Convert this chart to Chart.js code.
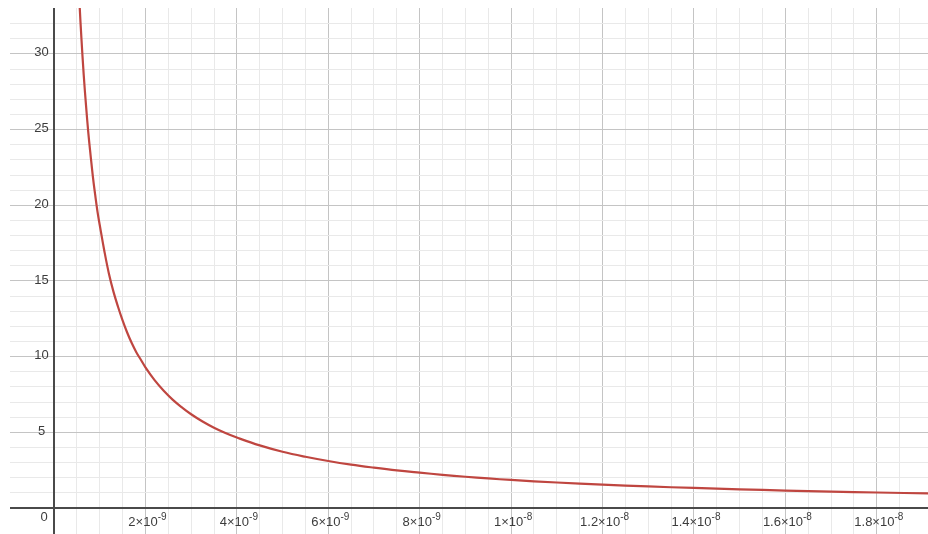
<!DOCTYPE html>
<html>
<head>
<meta charset="utf-8">
<script src="https://cdn.jsdelivr.net/npm/chart.js@4"></script>
<style>
  html, body { margin: 0; padding: 0; background: #fff; }
  #wrap { width: 928px; height: 534px; }
</style>
</head>
<body>
<div id="wrap"><canvas id="c" width="928" height="534"></canvas></div>
<script>
/* ── data (x in units of 1e-9) ── */
const xNano = [0.52, 0.56, 0.6, 0.65, 0.7, 0.75, 0.8, 0.85, 0.9, 0.95, 1.0, 1.1, 1.2, 1.3, 1.4, 1.5, 1.6, 1.7, 1.8, 1.9,
               2.0, 2.2, 2.4, 2.6, 2.8, 3.0, 3.25, 3.5, 3.75, 4.0, 4.5, 5.0, 5.5, 6.0, 6.5, 7.0, 7.5, 8.0, 8.5, 9.0, 9.5,
               10, 11, 12, 13, 14, 15, 16, 17, 18, 19.2];
const yVals = [35.8, 33.2, 31.0, 28.6, 26.6, 24.8, 23.3, 21.9, 20.7, 19.6, 18.7, 17.0, 15.5, 14.3, 13.3, 12.4, 11.6, 10.9, 10.3, 9.8,
               9.3, 8.45, 7.75, 7.15, 6.65, 6.2, 5.72, 5.31, 4.96, 4.66, 4.14, 3.72, 3.39, 3.11, 2.87, 2.67, 2.49, 2.34, 2.2, 2.07, 1.96,
               1.86, 1.69, 1.55, 1.43, 1.33, 1.24, 1.16, 1.09, 1.03, 0.97];

const xTickVals  = [2, 4, 6, 8, 10, 12, 14, 16, 18];
const xTickBase  = ["2×10", "4×10", "6×10", "8×10", "1×10", "1.2×10", "1.4×10", "1.6×10", "1.8×10"];
const xTickExp   = ["-9", "-9", "-9", "-9", "-8", "-8", "-8", "-8", "-8"];
const yTickVals  = [5, 10, 15, 20, 25, 30];
const yTickLbls  = ["5", "10", "15", "20", "25", "30"];

/* ── view window ── */
const X_MIN = -0.963, X_MAX = 19.12;
const Y_MIN = -1.71,  Y_MAX = 33.03;

const FONT = "'Liberation Sans', Arial, sans-serif";

function onStep(v, step) {
  return Math.abs(v / step - Math.round(v / step)) < 1e-6;
}

function gridColor(v, minor, major) {
  if (!onStep(v, minor)) return "rgba(0,0,0,0)";
  if (onStep(v, major)) return "#c4c4c4";
  return "#e9e9e9";
}

/* ── axes + labels, desmos style ── */
const axisLines = {
  id: "axisLines",
  beforeDatasetsDraw(chart) {
    const { ctx, chartArea: a, scales: { x, y } } = chart;
    const x0 = Math.round(x.getPixelForValue(0));
    const y0 = Math.round(y.getPixelForValue(0));
    ctx.save();
    ctx.strokeStyle = "#4a4a4a";
    ctx.lineWidth = 2;
    ctx.beginPath();
    ctx.moveTo(x0, a.top);  ctx.lineTo(x0, a.bottom);
    ctx.moveTo(a.left, y0); ctx.lineTo(a.right, y0);
    ctx.stroke();
    ctx.restore();
  },
};

const axisLabels = {
  id: "axisLabels",
  afterDraw(chart) {
    const { ctx, scales: { x, y } } = chart;
    ctx.save();
    ctx.fillStyle = "#3c3c3c";
    ctx.textBaseline = "alphabetic";

    // x labels
    xTickVals.forEach((v, i) => {
      const px = x.getPixelForValue(v);
      ctx.font = "13px " + FONT;
      const wb = ctx.measureText(xTickBase[i]).width;
      ctx.font = "10px " + FONT;
      const we = ctx.measureText(xTickExp[i]).width;
      const left = px - (wb + we) / 2 + 2;
      ctx.textAlign = "left";
      ctx.font = "13px " + FONT;
      ctx.fillText(xTickBase[i], left, 526);
      ctx.font = "10px " + FONT;
      ctx.fillText(xTickExp[i], left + wb, 520);
    });

    // y labels
    ctx.font = "13px " + FONT;
    ctx.textAlign = "center";
    ctx.textBaseline = "middle";
    yTickVals.forEach((v, i) => {
      ctx.fillText(yTickLbls[i], 41.5, y.getPixelForValue(v) - 1);
    });
    ctx.fillText("0", 44, y.getPixelForValue(0) + 9);
    ctx.restore();
  },
};

new Chart(document.getElementById("c"), {
  type: "scatter",
  data: {
    datasets: [{
      data: xNano.map((v, i) => ({ x: v, y: yVals[i] })),
      showLine: true,
      borderColor: "#bf4640",
      borderWidth: 2.2,
      pointRadius: 0,
      tension: 0.4,
    }],
  },
  options: {
    responsive: false,
    animation: false,
    layout: { padding: { left: 10, top: 8, right: 0, bottom: 0 } },
    plugins: { legend: { display: false }, tooltip: { enabled: false } },
    scales: {
      x: {
        type: "linear",
        min: X_MIN, max: X_MAX,
        ticks: { display: false, stepSize: 0.5 },
        border: { display: false },
        grid: {
          drawTicks: false,
          color: c => gridColor(c.tick.value, 0.5, 2),
        },
      },
      y: {
        type: "linear",
        min: Y_MIN, max: Y_MAX,
        ticks: { display: false, stepSize: 1 },
        border: { display: false },
        grid: {
          drawTicks: false,
          color: c => gridColor(c.tick.value, 1, 5),
        },
      },
    },
  },
  plugins: [axisLines, axisLabels],
});
</script>
</body>
</html>
